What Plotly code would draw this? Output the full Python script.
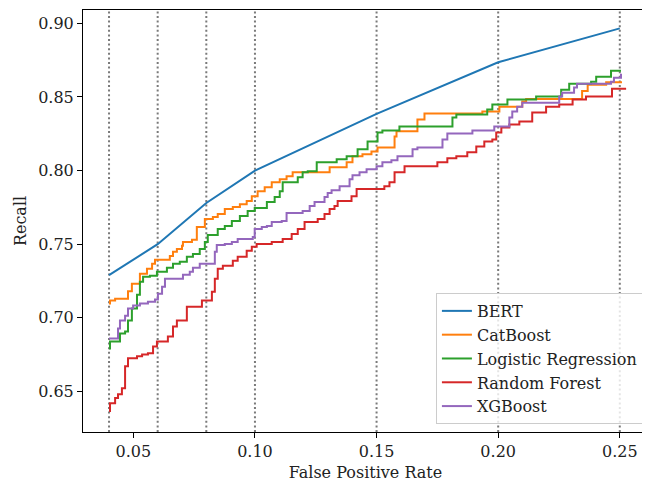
import plotly.graph_objects as go

# ---- data ----
bert_x = [0.04, 0.06, 0.08, 0.10, 0.15, 0.20, 0.25]
bert_y = [0.729, 0.750, 0.778, 0.800, 0.8385, 0.8735, 0.8965]

cat_x = [0.0400, 0.0404, 0.0425, 0.0478, 0.0494, 0.0527, 0.0556, 0.0577, 0.0589, 0.0650,
         0.0663, 0.0679, 0.0700, 0.0704, 0.0741, 0.0761, 0.0794, 0.0827, 0.0847, 0.0876,
         0.0909, 0.0938, 0.0966, 0.0987, 0.1011, 0.1040, 0.1069, 0.1102, 0.1130, 0.1155,
         0.1307, 0.1377, 0.1401, 0.1442, 0.1479, 0.1504, 0.1574, 0.1582, 0.1668, 0.1697,
         0.1935, 0.2005, 0.2099, 0.2115, 0.2345, 0.2368, 0.2444, 0.2509]
cat_y = [0.7097, 0.7117, 0.7130, 0.7180, 0.7232, 0.7300, 0.7333, 0.7367, 0.7394, 0.7420,
         0.7448, 0.7468, 0.7490, 0.7515, 0.7530, 0.7617, 0.7671, 0.7684, 0.7705, 0.7739,
         0.7752, 0.7772, 0.7793, 0.7826, 0.7860, 0.7887, 0.7921, 0.7941, 0.7961, 0.7989,
         0.8022, 0.8056, 0.8097, 0.8110, 0.8130, 0.8157, 0.8232, 0.8266, 0.8347, 0.8387,
         0.8401, 0.8434, 0.8468, 0.8485, 0.8540, 0.8583, 0.8600, 0.8600]

lr_x = [0.0400, 0.0404, 0.0445, 0.0466, 0.0478, 0.0494, 0.0515, 0.0527, 0.0540, 0.0568,
        0.0597, 0.0638, 0.0663, 0.0691, 0.0720, 0.0745, 0.0773, 0.0794, 0.0806, 0.0847,
        0.0876, 0.0905, 0.0938, 0.0970, 0.0999, 0.1049, 0.1081, 0.1102, 0.1114, 0.1176,
        0.1196, 0.1217, 0.1254, 0.1336, 0.1377, 0.1422, 0.1463, 0.1504, 0.1524, 0.1594,
        0.1812, 0.1828, 0.1955, 0.1976, 0.2038, 0.2156, 0.2259, 0.2292, 0.2382, 0.2403,
        0.2464, 0.2505]
lr_y = [0.6792, 0.6840, 0.6894, 0.6907, 0.6982, 0.7063, 0.7157, 0.7245, 0.7279, 0.7286,
        0.7313, 0.7340, 0.7367, 0.7380, 0.7414, 0.7434, 0.7468, 0.7515, 0.7563, 0.7603,
        0.7624, 0.7657, 0.7691, 0.7725, 0.7745, 0.7786, 0.7820, 0.7860, 0.7921, 0.7955,
        0.7989, 0.7995, 0.8056, 0.8076, 0.8097, 0.8144, 0.8198, 0.8259, 0.8272, 0.8299,
        0.8360, 0.8380, 0.8414, 0.8448, 0.8482, 0.8502, 0.8549, 0.8590, 0.8603, 0.8637,
        0.8678, 0.8678]

rf_x = [0.0400, 0.0404, 0.0425, 0.0437, 0.0453, 0.0466, 0.0478, 0.0515, 0.0536, 0.0560,
        0.0581, 0.0597, 0.0642, 0.0663, 0.0679, 0.0720, 0.0782, 0.0823, 0.0835, 0.0847,
        0.0868, 0.0909, 0.0929, 0.0966, 0.0987, 0.1007, 0.1069, 0.1114, 0.1151, 0.1176,
        0.1204, 0.1258, 0.1286, 0.1307, 0.1327, 0.1340, 0.1397, 0.1418, 0.1532, 0.1553,
        0.1574, 0.1615, 0.1750, 0.1791, 0.1828, 0.1873, 0.1910, 0.1943, 0.1976, 0.1992,
        0.2013, 0.2046, 0.2087, 0.2140, 0.2197, 0.2251, 0.2306, 0.2361, 0.2468, 0.2526]
rf_y = [0.6367, 0.6421, 0.6455, 0.6482, 0.6522, 0.6671, 0.6725, 0.6739, 0.6752, 0.6759,
        0.6806, 0.6840, 0.6874, 0.6941, 0.6982, 0.7076, 0.7117, 0.7178, 0.7266, 0.7333,
        0.7353, 0.7387, 0.7414, 0.7455, 0.7482, 0.7502, 0.7515, 0.7536, 0.7570, 0.7603,
        0.7651, 0.7671, 0.7705, 0.7739, 0.7759, 0.7793, 0.7826, 0.7874, 0.7894, 0.7921,
        0.7989, 0.8029, 0.8056, 0.8083, 0.8097, 0.8124, 0.8164, 0.8198, 0.8211, 0.8259,
        0.8293, 0.8313, 0.8333, 0.8394, 0.8434, 0.8448, 0.8482, 0.8502, 0.8556, 0.8556]

xgb_x = [0.0400, 0.0437, 0.0445, 0.0466, 0.0478, 0.0499, 0.0527, 0.0560, 0.0589, 0.0601,
         0.0618, 0.0630, 0.0704, 0.0732, 0.0745, 0.0773, 0.0835, 0.0843, 0.0876, 0.0905,
         0.0929, 0.0991, 0.0999, 0.1028, 0.1049, 0.1069, 0.1110, 0.1130, 0.1196, 0.1225,
         0.1245, 0.1286, 0.1299, 0.1315, 0.1348, 0.1389, 0.1401, 0.1430, 0.1459, 0.1500,
         0.1524, 0.1561, 0.1586, 0.1648, 0.1668, 0.1771, 0.1791, 0.1894, 0.1984, 0.2046,
         0.2058, 0.2078, 0.2099, 0.2251, 0.2263, 0.2312, 0.2324, 0.2464, 0.2476, 0.2505]
xgb_y = [0.6860, 0.6928, 0.6982, 0.7015, 0.7063, 0.7083, 0.7097, 0.7110, 0.7124, 0.7164,
         0.7211, 0.7266, 0.7293, 0.7313, 0.7340, 0.7367, 0.7448, 0.7495, 0.7502, 0.7515,
         0.7536, 0.7549, 0.7603, 0.7617, 0.7624, 0.7651, 0.7657, 0.7711, 0.7725, 0.7759,
         0.7786, 0.7820, 0.7847, 0.7867, 0.7894, 0.7941, 0.7968, 0.7989, 0.8009, 0.8029,
         0.8056, 0.8070, 0.8097, 0.8144, 0.8157, 0.8211, 0.8252, 0.8272, 0.8299, 0.8360,
         0.8401, 0.8434, 0.8461, 0.8502, 0.8529, 0.8563, 0.8590, 0.8603, 0.8630, 0.8657]

vline_x = [0.04, 0.06, 0.08, 0.10, 0.15, 0.20, 0.25]
x_ticks = [0.05, 0.10, 0.15, 0.20, 0.25]
y_ticks = [0.65, 0.70, 0.75, 0.80, 0.85, 0.90]

series = [
    ("BERT", bert_x, bert_y, "#1f77b4", "linear"),
    ("CatBoost", cat_x, cat_y, "#ff7f0e", "hv"),
    ("Logistic Regression", lr_x, lr_y, "#2ca02c", "hv"),
    ("Random Forest", rf_x, rf_y, "#d62728", "hv"),
    ("XGBoost", xgb_x, xgb_y, "#9467bd", "hv"),
]

FONT = "DejaVu Serif"
FS = 16

fig = go.Figure()
for name, xs, ys, color, shape in series:
    fig.add_trace(go.Scatter(
        x=xs, y=ys, mode="lines", name=name, legendgroup=name,
        line=dict(color=color, width=2, shape=shape),
    ))

for vx in vline_x:
    fig.add_shape(type="line", xref="x", yref="y domain", x0=vx, x1=vx, y0=0, y1=1,
                  line=dict(color="#7a7a7a", width=2, dash="2px,2.6px"), layer="below")

axis_common = dict(showgrid=False, zeroline=False, showline=True, linecolor="black",
                   linewidth=1, mirror=True, ticks="outside", ticklen=5, tickwidth=1,
                   tickcolor="black", tickfont=dict(family=FONT, size=FS, color="#222222"))

fig.update_xaxes(range=[0.0293, 0.2616], tickvals=x_ticks, tickformat=".2f",
                 title=dict(text="False Positive Rate", font=dict(family=FONT, size=FS, color="#222222"),
                            standoff=9),
                 **axis_common)
fig.update_yaxes(range=[0.6225, 0.909], tickvals=y_ticks, tickformat=".2f",
                 title=dict(text="Recall", font=dict(family=FONT, size=FS, color="#222222"),
                            standoff=7),
                 **axis_common)

# the page adds an 8px body margin, so the figure is offset by that amount
fig.update_layout(
    width=642, height=474,
    margin=dict(l=75, r=1, t=2, b=48),
    paper_bgcolor="white", plot_bgcolor="white",
    showlegend=True,
    legend=dict(x=0.991, y=0.019, xanchor="right", yanchor="bottom",
                bgcolor="rgba(255,255,255,0.8)", bordercolor="#cccccc", borderwidth=1,
                font=dict(family=FONT, size=FS, color="#222222"), tracegroupgap=0),
)

fig.write_html("out.html")
